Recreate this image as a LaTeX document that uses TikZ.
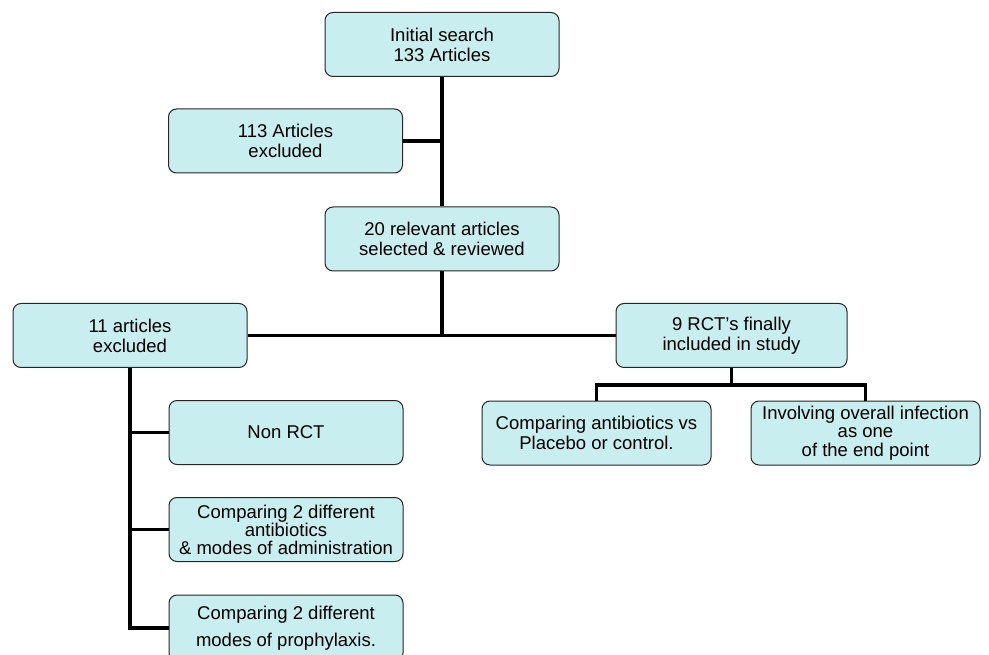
\documentclass[tikz,border=0pt]{standalone}
\usepackage{fontspec}
\setmainfont{Liberation Sans}
\definecolor{boxcyan}{HTML}{C9EEF0}
\begin{document}
\begin{tikzpicture}[x=1pt,y=-1pt,line join=miter,
  flow node/.style={rectangle,rounded corners=8pt,draw=black!85,line width=1pt,fill=boxcyan,minimum width=234pt,minimum height=64pt,align=center,inner sep=1pt,font=\fontsize{18.5}{20}\selectfont},
  link/.style={line width=3.8pt}]

  \useasboundingbox (0,0) rectangle (989,655);

  \node[flow node] (search) at (442,44.5) {Initial search\\ 133 Articles};
  \node[flow node] (excl113) at (285.5,141) {113 Articles\\excluded};
  \node[flow node] (review) at (442,239) {20 relevant articles\\selected \& reviewed};
  \node[flow node] (excl11) at (130,335.5) {11 articles\\excluded};
  \node[flow node, minimum width=231pt] (rct) at (731.5,335.5) {9 RCT's finally\\included in study};
  \node[flow node, minimum width=229pt] (placebo) at (596.5,433) {Comparing antibiotics vs\\Placebo or control.};
  \node[flow node, minimum width=229pt, font=\fontsize{18.5}{18.5}\selectfont] (endpoint) at (865.5,433) {Involving overall infection\\as one\\of the end point};
  \node[flow node] (nonrct) at (286,432.5) {Non RCT};
  \node[flow node, font=\fontsize{18.5}{18}\selectfont] (antib) at (286,529.5) {Comparing 2 different\\antibiotics\\\& modes of administration};
  \node[flow node, minimum height=66pt, font=\fontsize{18.5}{27}\selectfont] (proph) at (286,628) {Comparing 2 different\\ modes of prophylaxis.};

  \draw[link] (search) -- (review);
  \draw[link] (excl113) -- (excl113 -| search);
  \draw[link] (review) -- (review |- excl11);
  \draw[link] (excl11) -- (rct);
  \draw[link] (rct.south) -- ++(0,17) coordinate (split) -| (placebo.north);
  \draw[link] (split) -| (endpoint.north);
  \draw[link] (excl11.south) |- (nonrct.west);
  \draw[link] (excl11.south) |- (antib.west);
  \draw[link] (excl11.south) |- (proph.west);
\end{tikzpicture}
\end{document}
